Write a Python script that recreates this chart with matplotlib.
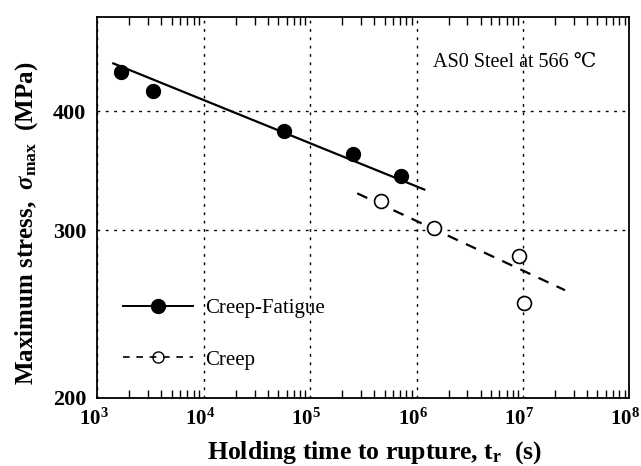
import numpy as np
import matplotlib.pyplot as plt
import matplotlib.transforms as mtransforms
from matplotlib.lines import Line2D

plt.rcParams['font.family'] = ['Liberation Serif', 'DejaVu Serif']
plt.rcParams['mathtext.fontset'] = 'custom'
plt.rcParams['mathtext.rm'] = 'Liberation Serif:bold'
plt.rcParams['mathtext.it'] = 'Liberation Serif:italic:bold'
plt.rcParams['mathtext.bf'] = 'Liberation Serif:bold'

# creep-fatigue tests (filled)
cf_time = [1.68e3, 3.36e3, 5.7e4, 2.53e5, 7.15e5]
cf_stress = [440, 420, 381, 361, 342]
cf_fit_time = [1.41e3, 1.18e6]
cf_fit_stress = [449, 331]

# creep tests (open)
cr_time = [4.64e5, 1.46e6, 9.2e6, 1.02e7]
cr_stress = [322, 301.5, 282, 251.5]
cr_fit_time = [2.76e5, 2.48e7]
cr_fit_stress = [328, 259.5]

fig, ax = plt.subplots(figsize=(6.41, 4.66), dpi=100)
fig.subplots_adjust(left=0.152, right=0.982, top=0.963, bottom=0.146)

ax.plot(cf_fit_time, cf_fit_stress, '-', color='black', lw=1.6)
ax.plot(cr_fit_time, cr_fit_stress, '--', color='black', lw=1.6, dashes=(5, 4))
ax.plot(cf_time, cf_stress, 'o', color='black', ms=10)
ax.plot(cr_time, cr_stress, 'o', mfc='white', mec='black', mew=1.2, ms=10)

ax.set_xscale('log')
ax.set_yscale('log')
ax.set_xlim(1e3, 1e8)
ax.set_ylim(200, 502)

ax.set_yticks([200, 300, 400])
ax.set_yticklabels(['200', '300', '400'], fontweight='bold')
ax.yaxis.set_minor_locator(plt.NullLocator())
ax.set_xticks([1e3, 1e4, 1e5, 1e6, 1e7, 1e8])
ax.set_xticklabels([r'$\mathrm{10}^{%d}$' % k for k in range(3, 9)])

ax.tick_params(which='both', direction='in', top=True, right=True)
ax.tick_params(which='major', length=0, labelsize=16)
ax.tick_params(axis='x', which='major', pad=8, labelsize=15)
ax.tick_params(axis='y', which='major', pad=8)
ax.tick_params(axis='x', which='minor', length=6, width=1)
ax.grid(True, which='major', linestyle=(0, (2, 4)), color='black', lw=1)

# shift x tick labels a little to the left, as in the original
shift = mtransforms.ScaledTranslation(-4 / 100, 0, fig.dpi_scale_trans)
for lab in ax.get_xticklabels():
    lab.set_transform(lab.get_transform() + shift)

for sp in ax.spines.values():
    sp.set_linewidth(1.3)

ax.set_xlabel(r'Holding time to rupture, t$_{\rm r}$  (s)', fontsize=18.5, fontweight='bold')
ax.set_ylabel(r'Maximum stress,  $\sigma_{\rm max}$  (MPa)', fontsize=18, fontweight='bold')
ax.xaxis.set_label_coords(0.52, -0.108)
ax.yaxis.set_label_coords(-0.108, 0.458)

ax.text(0.63, 0.87, 'AS0 Steel at 566 \u2103', transform=ax.transAxes, fontsize=14.5)

handles = [
    Line2D([], [], color='black', lw=1.4, marker='o', ms=10),
    Line2D([], [], color='black', lw=1.2, ls='--', dashes=(4, 4), marker='o', mfc='none', mec='black', ms=8),
]
ax.legend(handles, ['Creep-Fatigue', 'Creep'], loc='lower left', bbox_to_anchor=(0.012, 0.025),
          frameon=False, fontsize=15, handlelength=3.4, handletextpad=0.55, labelspacing=1.55)

fig.savefig('out.png')
